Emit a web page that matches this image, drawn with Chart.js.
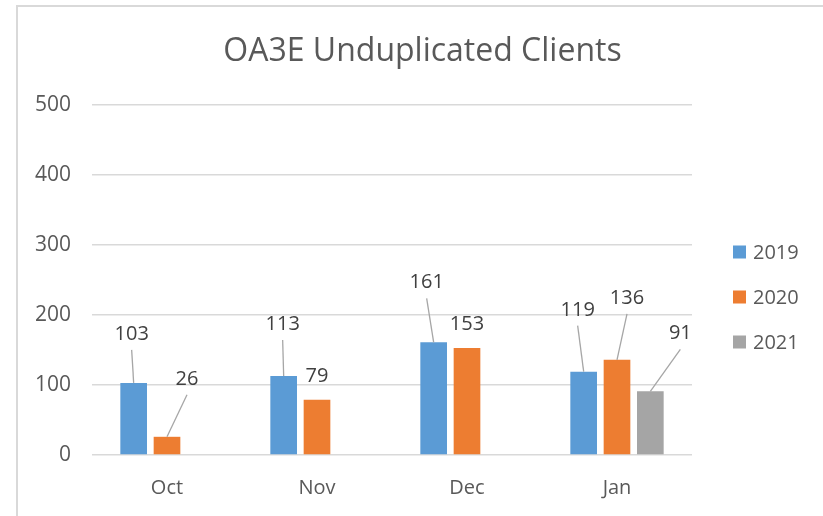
<!DOCTYPE html>
<html><head><meta charset="utf-8">
<script src="https://cdn.jsdelivr.net/npm/chart.js@4"></script>
<style>
html,body{margin:0;padding:0;background:#fff;}
#wrap{position:relative;width:823px;height:516px;overflow:hidden;background:#fff;}
#frame{position:absolute;left:16px;top:5px;width:900px;height:600px;border-top:2px solid #D9D9D9;border-left:2px solid #D9D9D9;pointer-events:none;}
canvas{position:absolute;left:0;top:0;}
</style></head><body>
<div id="wrap"><canvas id="c" width="823" height="516"></canvas><div id="frame"></div></div>
<script>
const chartTitle = 'OA3E Unduplicated Clients';
const categories = ['Oct', 'Nov', 'Dec', 'Jan'];
const seriesNames = ['2019', '2020', '2021'];
const values2019 = [103, 113, 161, 119];
const values2020 = [26, 79, 153, 136];
const values2021 = [null, null, null, 91];
const yTicks = [0, 100, 200, 300, 400, 500];
const seriesColors = ['#5B9BD5', '#ED7D31', '#A5A5A5'];
// manual data-label offsets (px, relative to bar top centre), as moved in the original
const labelOffsets = [
  [[-2, -50], [-1, -53], [-7, -61], [-6, -63]],
  [[20, -59], [0, -25], [0, -25], [10, -63]],
  [null, null, null, [30, -59]]
];

const FONT = "'Open Sans', 'Noto Sans', sans-serif";
const TEXT = '#595959';

const overlay = {
  id: 'overlay',
  afterDatasetsDraw(chart) {
    const ctx = chart.ctx;
    ctx.save();
    chart.data.datasets.forEach((ds, di) => {
      const meta = chart.getDatasetMeta(di);
      meta.data.forEach((bar, i) => {
        const v = ds.data[i];
        if (v === null || v === undefined) return;
        const off = (labelOffsets[di] && labelOffsets[di][i]) || [0, -25];
        const lx = bar.x + off[0], ly = bar.y + off[1];
        if (off[1] < -35) {
          ctx.strokeStyle = '#A6A6A6';
          ctx.lineWidth = 1.3;
          ctx.beginPath();
          ctx.moveTo(lx, ly + 17);
          ctx.lineTo(bar.x, bar.y);
          ctx.stroke();
        }
        ctx.fillStyle = '#404040';
        ctx.font = '20px ' + FONT;
        ctx.textAlign = 'center';
        ctx.textBaseline = 'alphabetic';
        ctx.fillText(String(v), lx, ly + 0.357 * 20);
      });
    });
    ctx.restore();
  },
  afterDraw(chart) {
    const ctx = chart.ctx;
    const ca = chart.chartArea;
    ctx.save();
    // title
    ctx.fillStyle = TEXT;
    ctx.font = '32px ' + FONT;
    ctx.textAlign = 'center';
    ctx.textBaseline = 'alphabetic';
    ctx.fillText(chartTitle, 422.5, 50 + 0.357 * 32);
    // legend
    ctx.font = '20px ' + FONT;
    ctx.textAlign = 'left';
    chart.data.datasets.forEach((ds, di) => {
      const cy = 252 + di * 45;
      ctx.fillStyle = ds.backgroundColor;
      ctx.fillRect(ca.right + 41, cy - 6.5, 13, 13);
      ctx.fillStyle = TEXT;
      ctx.fillText(ds.label, ca.right + 61, cy + 0.357 * 20);
    });
    ctx.restore();
  }
};

const seriesValues = [values2019, values2020, values2021];
new Chart(document.getElementById('c'), {
  type: 'bar',
  data: {
    labels: categories,
    datasets: seriesNames.map((n, i) => ({
      label: n,
      data: seriesValues[i],
      backgroundColor: seriesColors[i],
      borderWidth: 0,
      categoryPercentage: 0.6667,
      barPercentage: 0.8
    }))
  },
  options: {
    responsive: false,
    animation: false,
    devicePixelRatio: 1,
    layout: { padding: { top: 105, right: 131, left: 0, bottom: 0 } },
    plugins: { legend: { display: false }, title: { display: false }, tooltip: { enabled: false } },
    scales: {
      x: {
        grid: { display: false, drawTicks: false },
        border: { display: false },
        ticks: { color: TEXT, font: { family: FONT, size: 20 }, padding: 21 },
        afterFit(s) { s.height = 61; }
      },
      y: {
        min: 0, max: 500,
        afterBuildTicks(s) { s.ticks = yTicks.map(v => ({ value: v })); },
        grid: { color: '#D9D9D9', lineWidth: 1.5, drawTicks: false },
        border: { display: false },
        ticks: { color: TEXT, font: { family: FONT, size: 21 }, padding: 21 },
        afterFit(s) { s.width = 92; }
      }
    }
  },
  plugins: [overlay]
});
</script>
</body></html>
